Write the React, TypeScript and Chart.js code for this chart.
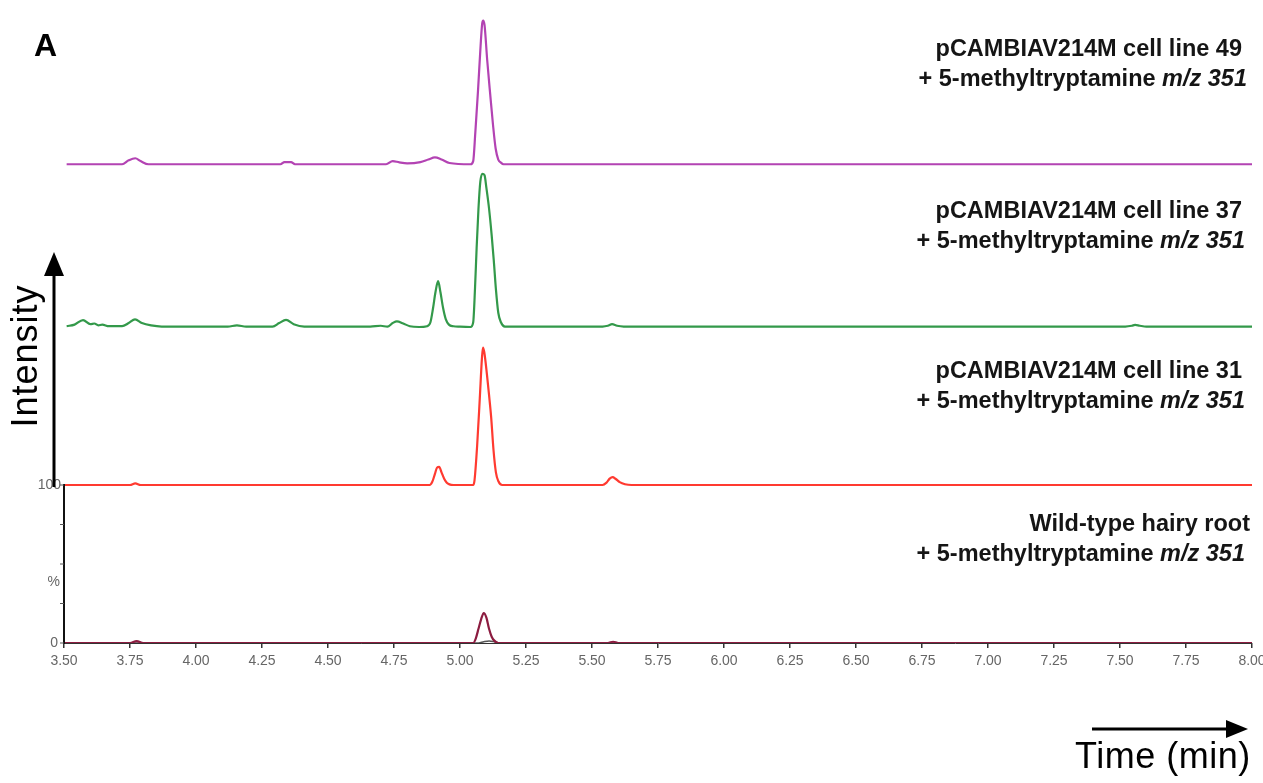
import React, { useEffect, useRef } from "react";
import { Chart, registerables } from "chart.js";

Chart.register(...registerables);

const FAMILY = "'Liberation Sans', Arial, Helvetica, sans-serif";

// ---- x axis (retention time, min) ----
const timeMin = 3.5;
const timeMax = 8.0;
const timeStep = 0.25;

// ---- pCAMBIAV214M cell line 49 (magenta) ----
const line49Times = [3.51, 3.72, 3.745, 3.77, 3.79, 3.82, 4.32, 4.335, 4.36, 4.375, 4.72, 4.745, 4.77, 4.80, 4.85, 4.88, 4.905, 4.93, 4.96, 5.04, 5.05, 5.058, 5.068, 5.078, 5.084, 5.088, 5.093, 5.103, 5.114, 5.125, 5.135, 5.145, 5.155, 5.165, 8.0];
const line49Values = [0, 0, 2.5, 3.8, 2, 0, 0, 1.3, 1.3, 0, 0, 2, 1.2, 0.6, 1.4, 3, 4.3, 3, 0.8, 0, 2, 20, 46, 75, 89, 91, 88, 66, 45, 25, 10, 3, 1, 0, 0];

// ---- pCAMBIAV214M cell line 37 (green) ----
const line37Times = [3.51, 3.54, 3.572, 3.60, 3.615, 3.63, 3.645, 3.67, 3.72, 3.745, 3.769, 3.795, 3.83, 3.87, 4.12, 4.155, 4.19, 4.29, 4.315, 4.341, 4.37, 4.41, 4.66, 4.70, 4.725, 4.745, 4.761, 4.785, 4.81, 4.845, 4.875, 4.888, 4.898, 4.907, 4.917, 4.926, 4.936, 4.946, 4.958, 4.975, 5.00, 5.04, 5.05, 5.057, 5.063, 5.07, 5.077, 5.085, 5.093, 5.10, 5.11, 5.12, 5.128, 5.136, 5.145, 5.155, 5.17, 5.54, 5.56, 5.576, 5.595, 5.62, 7.52, 7.545, 7.557, 7.575, 7.60, 8.0];
const line37Values = [0.5, 1.5, 4.4, 1.8, 2.2, 1, 1.5, 0.5, 0.5, 2.5, 4.8, 2.5, 1, 0.3, 0.3, 1, 0.3, 0.3, 2.5, 4.5, 1.8, 0.3, 0.3, 0.8, 0.2, 2.5, 3.6, 2.2, 0.5, 0, 0.5, 3, 12, 22, 29, 22, 12, 5, 1.5, 0.5, 0.2, 0, 3, 25, 50, 75, 92, 97, 96, 88, 75, 58, 42, 24, 9, 3, 0.3, 0.3, 0.8, 1.8, 0.8, 0.3, 0.3, 0.8, 1.3, 0.8, 0.3, 0.3];

// ---- pCAMBIAV214M cell line 31 (red) ----
const line31Times = [3.5, 3.75, 3.77, 3.79, 4.885, 4.895, 4.905, 4.913, 4.921, 4.93, 4.94, 4.95, 4.96, 4.975, 5.05, 5.055, 5.065, 5.075, 5.083, 5.087, 5.092, 5.102, 5.11, 5.118, 5.127, 5.136, 5.145, 5.16, 5.54, 5.555, 5.567, 5.578, 5.59, 5.605, 5.625, 5.65, 8.0];
const line31Values = [0, 0, 1, 0, 0, 2, 7, 11, 11.5, 8, 4, 1.5, 0.4, 0, 0, 3, 25, 55, 80, 87, 84, 70, 57, 43, 22, 8, 2.5, 0, 0, 1.5, 4, 5, 3.8, 1.8, 0.5, 0, 0];

// ---- Wild-type hairy root (maroon + grey trace) ----
const wildTimes = [3.5, 3.75, 3.775, 3.80, 5.05, 5.06, 5.07, 5.08, 5.09, 5.10, 5.11, 5.12, 5.13, 5.145, 5.56, 5.58, 5.60, 8.0];
const wildValues = [0, 0, 1.2, 0, 0, 3, 9, 15, 19, 16, 9, 4, 1.5, 0, 0, 0.8, 0, 0];
const wildGreyTimes = [3.5, 5.07, 5.09, 5.11, 5.13, 5.15, 8.0];
const wildGreyValues = [0, 0, 0.8, 1.3, 0.8, 0, 0];

// stacking offsets (each panel is 0-100 %)
const traceOffsets = [303, 200, 100, 0, 0];
const traceColors = ["#b343b3", "#33994a", "#ff3a30", "#8c1c40", "#555555"];

// ---- texts ----
const panelLetter = "A";
const traceTitles = ["pCAMBIAV214M cell line 49", "pCAMBIAV214M cell line 37", "pCAMBIAV214M cell line 31", "Wild-type hairy root"];
const traceSubtitle = "+ 5-methyltryptamine ";
const traceSubtitleItalic = "m/z 351";
const percentLabels = ["100", "%", "0"];
const intensityLabel = "Intensity";
const timeLabel = "Time (min)";

const traces = [
  [line49Times, line49Values],
  [line37Times, line37Values],
  [line31Times, line31Values],
  [wildTimes, wildValues],
  [wildGreyTimes, wildGreyValues],
];

const annotationPlugin = {
  id: "annotations",
  afterDraw(chart: any) {
    const ctx: CanvasRenderingContext2D = chart.ctx;
    const xs = chart.scales.x;
    const ys = chart.scales.y;
    ctx.save();

    // left % axis (bottom panel)
    const axX = xs.left;
    const y0 = ys.getPixelForValue(0);
    const y100 = ys.getPixelForValue(100);
    ctx.strokeStyle = "#111";
    ctx.lineWidth = 2;
    ctx.beginPath();
    ctx.moveTo(axX, y0 + 1);
    ctx.lineTo(axX, y100 - 1);
    ctx.stroke();
    ctx.lineWidth = 1;
    ctx.strokeStyle = "#555";
    [0, 25, 50, 75, 100].forEach((v) => {
      const py = ys.getPixelForValue(v);
      ctx.beginPath();
      ctx.moveTo(axX - 4, py);
      ctx.lineTo(axX, py);
      ctx.stroke();
    });
    ctx.fillStyle = "#666";
    ctx.font = `14px ${FAMILY}`;
    ctx.textBaseline = "middle";
    ctx.textAlign = "right";
    ctx.fillText(percentLabels[0], axX - 3, y100);
    ctx.fillText(percentLabels[1], axX - 4, ys.getPixelForValue(38.5));
    ctx.fillText(percentLabels[2], axX - 6, y0);

    // intensity arrow
    const arX = axX - 10;
    ctx.strokeStyle = "#000";
    ctx.fillStyle = "#000";
    ctx.lineWidth = 3;
    ctx.beginPath();
    ctx.moveTo(arX, y100 + 2);
    ctx.lineTo(arX, 272);
    ctx.stroke();
    ctx.beginPath();
    ctx.moveTo(arX, 252);
    ctx.lineTo(arX - 10, 276);
    ctx.lineTo(arX + 10, 276);
    ctx.closePath();
    ctx.fill();

    // Intensity label
    ctx.save();
    ctx.translate(37, 356);
    ctx.rotate(-Math.PI / 2);
    ctx.font = `36px ${FAMILY}`;
    (ctx as any).letterSpacing = "1px";
    ctx.textAlign = "center";
    ctx.textBaseline = "alphabetic";
    ctx.fillStyle = "#000";
    ctx.fillText(intensityLabel, 0, 0);
    ctx.restore();

    // time arrow
    ctx.strokeStyle = "#000";
    ctx.lineWidth = 3;
    ctx.beginPath();
    ctx.moveTo(1092, 729);
    ctx.lineTo(1230, 729);
    ctx.stroke();
    ctx.beginPath();
    ctx.moveTo(1248, 729);
    ctx.lineTo(1226, 720);
    ctx.lineTo(1226, 738);
    ctx.closePath();
    ctx.fill();

    ctx.save();
    ctx.font = `36px ${FAMILY}`;
    (ctx as any).letterSpacing = "0.5px";
    ctx.textAlign = "left";
    ctx.textBaseline = "alphabetic";
    ctx.fillStyle = "#000";
    ctx.fillText(timeLabel, 1075, 768);
    ctx.restore();

    // panel letter
    ctx.font = `bold 32px ${FAMILY}`;
    ctx.textAlign = "left";
    ctx.textBaseline = "alphabetic";
    ctx.fillStyle = "#000";
    ctx.fillText(panelLetter, 34, 56);

    // trace titles
    const fs = 23.5;
    const titleBase = [56, 218, 378, 531];
    const titleRight = [1242, 1242, 1242, 1250];
    const subRight = [1247, 1245, 1245, 1245];
    ctx.fillStyle = "#151515";
    traceTitles.forEach((t, i) => {
      ctx.font = `bold ${fs}px ${FAMILY}`;
      ctx.textAlign = "right";
      ctx.fillText(t, titleRight[i], titleBase[i]);
      const bold = `bold ${fs}px ${FAMILY}`;
      const ital = `italic bold ${fs}px ${FAMILY}`;
      ctx.font = bold;
      const w1 = ctx.measureText(traceSubtitle).width;
      ctx.font = ital;
      const w2 = ctx.measureText(traceSubtitleItalic).width;
      ctx.textAlign = "left";
      ctx.font = bold;
      ctx.fillText(traceSubtitle, subRight[i] - w1 - w2, titleBase[i] + 30);
      ctx.font = ital;
      ctx.fillText(traceSubtitleItalic, subRight[i] - w2, titleBase[i] + 30);
    });

    ctx.restore();
  },
};

export default function App() {
  const ref = useRef<HTMLCanvasElement>(null);
  useEffect(() => {
    const canvas = ref.current!;
    Chart.defaults.font.family = FAMILY;
    const datasets = traces.map(([times, values], i) => ({
      data: times.map((t, k) => ({ x: t, y: values[k] + traceOffsets[i] })),
      borderColor: traceColors[i],
      borderWidth: i === 4 ? 1.5 : 2.2,
      pointRadius: 0,
      fill: false,
      cubicInterpolationMode: "monotone" as const,
      order: i === 4 ? 10 : i,
    }));
    const chart = new Chart(canvas, {
      type: "line",
      data: { datasets },
      options: {
        animation: false,
        responsive: false,
        devicePixelRatio: 1,
        layout: { padding: { left: 64, right: 11, top: 11, bottom: 110 } },
        plugins: { legend: { display: false }, tooltip: { enabled: false }, title: { display: false } },
        scales: {
          x: {
            type: "linear",
            min: timeMin,
            max: timeMax,
            afterFit: (scale: any) => {
              scale.height = 30;
              scale.paddingRight = 0;
              scale.paddingLeft = 0;
            },
            afterBuildTicks: (scale: any) => {
              const ticks = [];
              for (let k = 0; k <= Math.round((timeMax - timeMin) / timeStep); k++) {
                ticks.push({ value: timeMin + k * timeStep });
              }
              scale.ticks = ticks;
            },
            grid: { display: true, drawOnChartArea: false, drawTicks: true, tickLength: 5, color: "#333", lineWidth: 1.5 },
            border: { display: true, color: "#333", width: 1 },
            ticks: {
              autoSkip: false,
              maxRotation: 0,
              padding: 5,
              color: "#666",
              font: { size: 14, family: FAMILY },
              callback: (v: any) => Number(v).toFixed(2),
            },
          },
          y: { type: "linear", min: 0, max: 400, display: false },
        },
      },
      plugins: [annotationPlugin],
    });
    return () => chart.destroy();
  }, []);
  return (
    <div style={{ position: "absolute", left: 0, top: 0, width: 1263, height: 783, background: "#fff" }}>
      <canvas ref={ref} width={1263} height={783} style={{ display: "block", width: 1263, height: 783 }} />
    </div>
  );
}
